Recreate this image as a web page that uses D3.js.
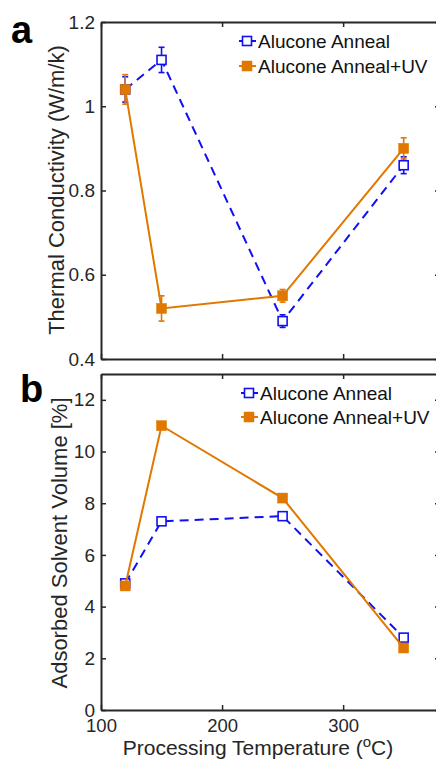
<!DOCTYPE html>
<html>
<head>
<meta charset="utf-8">
<script src="https://cdn.jsdelivr.net/npm/d3@7"></script>
<style>
  html, body { margin: 0; padding: 0; background: #fff; }
  svg { display: block; font-family: "Liberation Sans", Arial, sans-serif; }
</style>
</head>
<body>
<svg id="chart" width="436" height="760"></svg>
<script>
// ---- data ----
const temps = [120, 150, 250, 350];
const seriesNames = ["Alucone Anneal", "Alucone Anneal+UV"];

// panel a: thermal conductivity (W/m/k)
const kAnneal = [1.04, 1.11, 0.49, 0.86];
const kAnnealErr = [0.03, 0.03, 0.015, 0.02];
const kAnnealUV = [1.04, 0.52, 0.55, 0.90];
const kAnnealUVErr = [0.035, 0.03, 0.015, 0.025];

// panel b: adsorbed solvent volume (%)
const vAnneal = [4.9, 7.3, 7.5, 2.8];
const vAnnealUV = [4.8, 11.0, 8.2, 2.4];

const xTicks = [100, 200, 300];
const xTickLabels = ["100", "200", "300"];
const yTicksA = [0.4, 0.6, 0.8, 1.0, 1.2];
const yTickLabelsA = ["0.4", "0.6", "0.8", "1", "1.2"];
const yTicksB = [0, 2, 4, 6, 8, 10, 12];
const yTickLabelsB = ["0", "2", "4", "6", "8", "10", "12"];

// ---- styles ----
const BLUE = "#1010f5";
const ORANGE = "#e07800";
const INK = "#262626";
const FS = 19;

const svg = d3.select("#chart");

const x = d3.scaleLinear().domain([100, 380]).range([101, 440]);
const yA = d3.scaleLinear().domain([0.4, 1.2]).range([359, 22]);
const yB = d3.scaleLinear().domain([0, 13]).range([710, 374]);

function drawFrame(y, yTicks, yLabels, showXLabels) {
  const [y0, y1] = y.range();
  const g = svg.append("g");
  const left = g.append("g").attr("transform", `translate(${x.range()[0]},0)`)
    .call(d3.axisLeft(y).tickValues(yTicks).tickFormat((d, i) => yLabels[i]).tickSize(-5).tickPadding(6).tickSizeOuter(0));
  const right = g.append("g").attr("transform", `translate(${x.range()[1]},0)`)
    .call(d3.axisRight(y).tickValues(yTicks).tickFormat("").tickSize(-5).tickSizeOuter(0));
  const bottom = g.append("g").attr("transform", `translate(0,${y0})`)
    .call(d3.axisBottom(x).tickValues(xTicks).tickFormat((d, i) => showXLabels ? xTickLabels[i] : "").tickSize(-5).tickPadding(9).tickSizeOuter(0));
  const top = g.append("g").attr("transform", `translate(0,${y1})`)
    .call(d3.axisTop(x).tickValues(xTicks).tickFormat("").tickSize(-5).tickSizeOuter(0));
  [left, right, bottom, top].forEach(a => {
    a.select(".domain").attr("stroke", INK).attr("stroke-width", 2);
    a.selectAll(".tick line").attr("stroke", INK).attr("stroke-width", 1.5);
    a.selectAll(".tick text").attr("fill", INK).attr("font-size", FS)
      .attr("font-family", "'Liberation Sans', Arial, sans-serif");
  });
  bottom.selectAll(".tick text").attr("font-size", 18.5);
}

function drawSeries(y, vals, errs, color, dashed, filled) {
  const pts = temps.map((t, i) => ({ t, v: vals[i], e: errs ? errs[i] : 0 }));
  const line = d3.line().x(d => x(d.t)).y(d => y(d.v));
  svg.append("path").datum(pts).attr("d", line)
    .attr("fill", "none").attr("stroke", color).attr("stroke-width", 2)
    .attr("stroke-dasharray", dashed ? "9,6" : null);
  if (errs) {
    const eg = svg.append("g").attr("stroke", color).attr("stroke-width", 1.6);
    pts.forEach(d => {
      eg.append("line").attr("x1", x(d.t)).attr("x2", x(d.t))
        .attr("y1", y(d.v - d.e)).attr("y2", y(d.v + d.e));
      [d.v - d.e, d.v + d.e].forEach(v => {
        eg.append("line").attr("x1", x(d.t) - 3).attr("x2", x(d.t) + 3)
          .attr("y1", y(v)).attr("y2", y(v));
      });
    });
  }
  const s = filled ? 10 : 9;
  svg.append("g").selectAll("rect").data(pts).join("rect")
    .attr("x", d => x(d.t) - s / 2).attr("y", d => y(d.v) - s / 2)
    .attr("width", s).attr("height", s)
    .attr("fill", filled ? color : "#fff")
    .attr("stroke", color).attr("stroke-width", filled ? 0.5 : 1.6);
}

function drawLegend(lx, ly1, ly2) {
  const rows = [
    { name: seriesNames[0], color: BLUE, filled: false, y: ly1 },
    { name: seriesNames[1], color: ORANGE, filled: true, y: ly2 }
  ];
  rows.forEach(r => {
    svg.append("line").attr("x1", lx - 8).attr("x2", lx + 9).attr("y1", r.y).attr("y2", r.y)
      .attr("stroke", r.color).attr("stroke-width", 2);
    const s = r.filled ? 10 : 9;
    svg.append("rect").attr("x", lx - s / 2).attr("y", r.y - s / 2).attr("width", s).attr("height", s)
      .attr("fill", r.filled ? r.color : "#fff").attr("stroke", r.color).attr("stroke-width", r.filled ? 0.5 : 1.6);
    svg.append("text").attr("x", lx + 11).attr("y", r.y).attr("dy", "0.35em")
      .attr("font-size", FS).attr("fill", "#111").text(r.name);
  });
}

// ---- panel a ----
drawFrame(yA, yTicksA, yTickLabelsA, false);
drawSeries(yA, kAnneal, kAnnealErr, BLUE, true, false);
drawSeries(yA, kAnnealUV, kAnnealUVErr, ORANGE, false, true);
drawLegend(247, 41, 66);

// ---- panel b ----
drawFrame(yB, yTicksB, yTickLabelsB, true);
drawSeries(yB, vAnneal, null, BLUE, true, false);
drawSeries(yB, vAnnealUV, null, ORANGE, false, true);
drawLegend(249, 393, 417);

// ---- labels ----
svg.append("text").attr("transform", "translate(64,190) rotate(-90)")
  .attr("text-anchor", "middle").attr("font-size", 22).attr("fill", INK)
  .text("Thermal Conductivity (W/m/k)");
svg.append("text").attr("transform", "translate(67,543) rotate(-90)")
  .attr("text-anchor", "middle").attr("font-size", 22).attr("fill", INK)
  .text("Adsorbed Solvent Volume [%]");
const xl = svg.append("text").attr("x", 258).attr("y", 755)
  .attr("text-anchor", "middle").attr("font-size", 21).attr("fill", INK);
xl.append("tspan").text("Processing Temperature (");
xl.append("tspan").attr("font-size", 15).attr("dy", -8).text("o");
xl.append("tspan").attr("dy", 8).text("C)");

svg.append("text").attr("x", 11).attr("y", 43).attr("font-size", 38).attr("font-weight", "bold")
  .attr("fill", "#000").text("a");
svg.append("text").attr("x", 20).attr("y", 402).attr("font-size", 38).attr("font-weight", "bold")
  .attr("fill", "#000").text("b");
</script>
</body>
</html>
